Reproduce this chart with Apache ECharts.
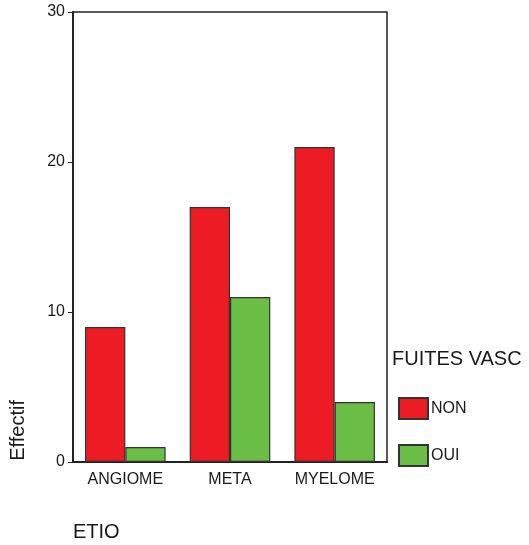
<!DOCTYPE html>
<html>
<head>
<meta charset="utf-8">
<script src="https://cdn.jsdelivr.net/npm/echarts@6/dist/echarts.min.js"></script>
<style>
  html, body { margin: 0; padding: 0; background: #fff; }
  #chart { width: 529px; height: 545px; }
</style>
</head>
<body>
<div id="chart"></div>
<script>
var categories = ['ANGIOME', 'META', 'MYELOME'];
var seriesNames = ['NON', 'OUI'];
var nonValues = [9, 17, 21];
var ouiValues = [1, 11, 4];
var yTicks = [0, 10, 20, 30];

var chart = echarts.init(document.getElementById('chart'));
var textColor = '#1a1a1a';
var lineColor = '#222';
var font = 'Arial, "Liberation Sans", sans-serif';

var option = {
    animation: false,
    textStyle: { fontFamily: font },
    title: {
        text: 'FUITES VASC',
        left: 392,
        top: 349,
        padding: 0,
        textStyle: { fontSize: 20, fontWeight: 'normal', color: textColor, fontFamily: font }
    },
    legend: {
        orient: 'vertical',
        left: 398,
        top: 397,
        padding: 0,
        itemWidth: 29,
        itemHeight: 21,
        itemGap: 24,
        icon: 'rect',
        textStyle: { fontSize: 16, color: textColor, padding: [0, 0, 0, -2] },
        data: seriesNames
    },
    grid: {
        left: 73,
        top: 12,
        width: 314,
        height: 450,
        show: true,
        borderColor: lineColor,
        borderWidth: 1.5,
        outerBoundsMode: 'none'
    },
    xAxis: {
        type: 'category',
        data: categories,
        axisLine: { lineStyle: { color: lineColor, width: 2 } },
        axisTick: { alignWithLabel: true, length: 5, lineStyle: { color: lineColor } },
        axisLabel: { fontSize: 16, color: textColor, margin: 10 }
    },
    yAxis: {
        type: 'value',
        min: yTicks[0],
        max: yTicks[yTicks.length - 1],
        interval: 10,
        splitLine: { show: false },
        axisLine: { show: true, lineStyle: { color: lineColor, width: 2 } },
        axisTick: { show: true, length: 5, lineStyle: { color: lineColor } },
        axisLabel: { fontSize: 16, color: textColor, margin: 8 }
    },
    graphic: [
        {
            type: 'text',
            left: 8,
            top: 400,
            rotation: Math.PI / 2,
            style: { text: 'Effectif', fill: textColor, font: '20px ' + font }
        },
        {
            type: 'text',
            left: 73,
            top: 522,
            style: { text: 'ETIO', fill: textColor, font: '20px ' + font }
        }
    ],
    series: [
        {
            name: seriesNames[0],
            type: 'bar',
            data: nonValues,
            barGap: '0%',
            barCategoryGap: '23%',
            itemStyle: { color: '#ED1C24', borderColor: '#333', borderWidth: 1.2 }
        },
        {
            name: seriesNames[1],
            type: 'bar',
            data: ouiValues,
            barGap: '0%',
            barCategoryGap: '23%',
            itemStyle: { color: '#6ABD45', borderColor: '#333', borderWidth: 1.2 }
        }
    ]
};
chart.setOption(option);
</script>
</body>
</html>
